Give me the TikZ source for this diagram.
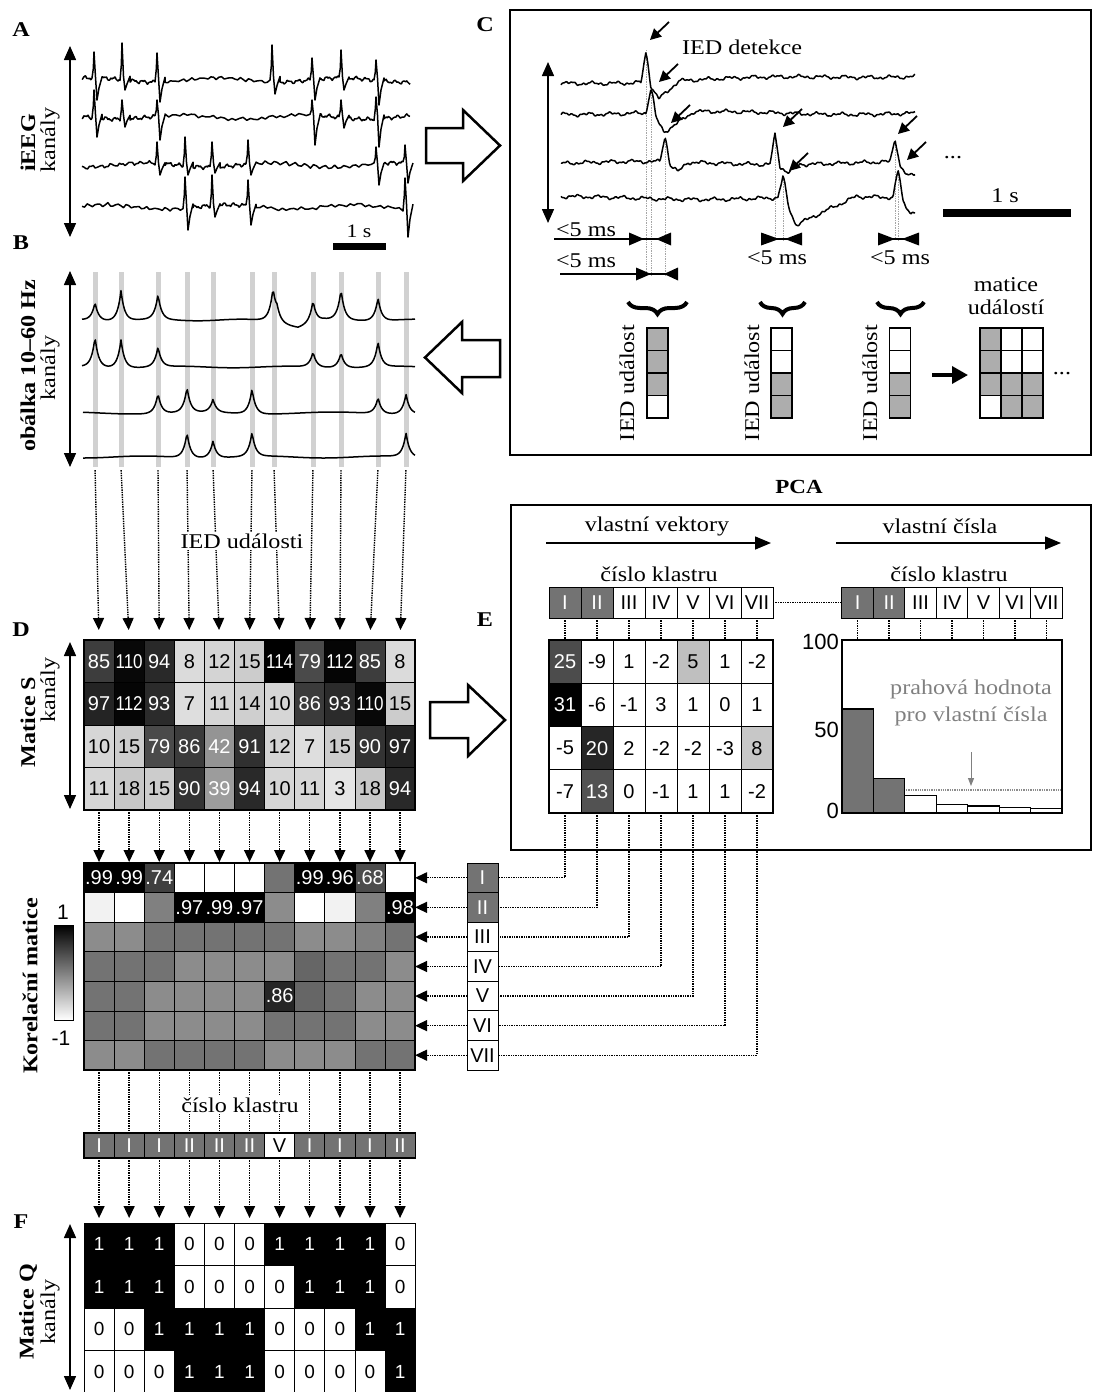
\documentclass[tikz,border=0pt]{standalone}
\usepackage{fontspec}
\usepackage{graphicx}
\setmainfont{Liberation Serif}[FakeStretch=1.15]
\newfontfamily\sfn{Liberation Sans}
\usetikzlibrary{arrows.meta,decorations.pathreplacing,calc}
\newcommand\eegA[4]{%
  \draw[trace] (82,{#1+nz(82,#2)})
   \foreach \sa/\ca/\ha/\ea in {#3} {
     -- plot[domain=\sa:\ca-2,samples=40] (\x,{#1+nz(\x,#2)})
     -- (\ca-0.7,{#1-0.4*\ha}) -- (\ca,{#1-\ha}) -- (\ca+1.5,{#1-0.1*\ha})
     -- (\ca+3,{#1+\ea}) -- (\ca+5,{#1+0.4*\ea}) -- (\ca+8,{#1-0.1*\ha})
   } #4;}
\newcommand\trimark[4]{\fill (#1,#3-#4) -- (#2,#3) -- (#1,#3+#4) -- cycle;}
\begin{document}
\begin{tikzpicture}[x=1pt,y=-1pt,
  declare function={
    nz(\xa,\ph)=1.3*sin(mod(\xa+\ph,9.7)*37.11)+0.7*sin(mod(\xa+2*\ph,4.3)*83.72)+0.35*sin(mod(\xa+3*\ph,2.1)*171.43)+2.2*sin((\xa+\ph)*2.9);
    pk(\dd,\hh)=-\hh*exp(-min(abs(\dd)/3.5,14));
    nzc(\xa,\ph)=1.2*sin(mod(\xa+\ph,23)*15.65)+0.8*sin(mod(\xa+2*\ph,9)*40)+0.5*sin(mod(\xa+3*\ph,4.3)*83.72)+1.5*sin((\xa+\ph)*1.3);
    cs(\dd,\hh,\ee,\ll)=-\hh*max(0,1-abs(\dd)/5)+\ee*max(0,min((\dd-2)/11,1-(\dd-13)/\ll));
  },
  trace/.style={draw=black,line width=1.5pt,line join=round},
  darrow/.style={line width=1.5pt,{Triangle[length=14pt,width=12pt]}-{Triangle[length=14pt,width=12pt]}},
  dotarrow/.style={densely dotted,line width=1.4pt,-{Triangle[length=12pt,width=11pt]}},
  dotline/.style={densely dotted,line width=1.4pt},
  lbl/.style={font=\fontsize{21}{26}\selectfont,inner sep=1pt},
  rlbl/.style={lbl,rotate=90},
  blbl/.style={font=\bfseries\fontsize{21}{25}\selectfont,inner sep=0pt,rotate=90},
  panel/.style={font=\bfseries\fontsize{21}{23}\selectfont,inner sep=0pt},
  num/.style={font=\sfn\fontsize{21}{23}\selectfont,inner sep=0pt},
  cell/.style={draw=black,line width=0.7pt,inner sep=0pt,outer sep=0pt,font=\sfn\fontsize{20}{22}\selectfont},
  evc/.style={draw=black,line width=1.3pt,minimum width=21pt,minimum height=22.5pt,inner sep=0pt,outer sep=0pt},
  gbar/.style={fill=black!18,draw=none,minimum width=5pt,minimum height=195pt,inner sep=0pt},
  hollow/.style={draw=black,line width=2.5pt,fill=white,line join=miter},
  smarrow/.style={line width=1.8pt,-{Triangle[length=11pt,width=11pt]}},
  gline/.style={densely dotted,black!35,line width=0.7pt},
  bigarrow/.style={line width=1.5pt,-{Triangle[length=16pt,width=13pt]}},
  brc/.style={line width=4pt,decorate,decoration={brace,amplitude=12pt,aspect=0.5}},
]
\useasboundingbox (0,0) rectangle (1094,1392);
\fill[white] (0,0) rectangle (1094,1392);

%%%%%%%%%%%%%%%% Panel A
\node[panel] (lA) at (21,30) {A};
\coordinate (aT) at (70,46); \coordinate (aB) at (70,237);
\draw[darrow] (aT) -- (aB);
\node[blbl] (tA1) at (28,143) {iEEG};
\node[rlbl] (tA2) at (50,140) {kanály};
\eegA{80}{0}{82/94/28/20, 102/122/37/10, 130/157/27/22, 165/272/35/14, 280/312/22/20, 320/341/30/10, 349/376/20/25}{-- plot[domain=384:410,samples=25] (\x,{80+nz(\x,0)})}
\eegA{117}{37}{82/94/27/20, 102/122/17/10, 130/157/17/23, 165/312/17/28, 320/341/17/11, 349/376/20/30}{-- plot[domain=384:410,samples=25] (\x,{117+nz(\x,37)})}
\eegA{165}{71}{82/157/23/10, 165/185/28/10, 193/212/23/8, 220/248/25/10, 256/376/18/20, 384/405/20/18}{}
\eegA{207}{113}{82/185/30/23, 193/212/32/10, 220/248/27/18, 256/405/29/30}{}
\fill (333,243) rectangle (386,250);
\node[lbl,font=\fontsize{19}{20}\selectfont] (sA) at (359,231) {1 s};

%%%%%%%%%%%%%%%% Panel B
\node[panel] (lB) at (21,243) {B};
\foreach \xb [count=\ii] in {95,121,158,187,213,252,274,313,341,378,406}
  \node[gbar] (gb-\ii) at (\xb,369.5) {};
\coordinate (bT) at (70,271); \coordinate (bB) at (70,467);
\draw[darrow] (bT) -- (bB);
\node[blbl] (tB1) at (28,366) {obálka 10--60 Hz};
\node[rlbl] (tB2) at (50,368) {kanály};
\draw[trace] plot[domain=82:415,samples=300] (\x,{320+0.8*sin(\x*4.1)+7*max(0,1-abs(\x-298)/26)+pk(\x-95,18)+pk(\x-121,30)+pk(\x-158,25)+pk(\x-273,30)+pk(\x-277,9)+pk(\x-313,22)+pk(\x-341,30)+pk(\x-378,23)});
\draw[trace] plot[domain=82:415,samples=300] (\x,{367+0.8*sin(\x*3.3+40)+pk(\x-95,30)+pk(\x-121,28)+pk(\x-158,20)+pk(\x-313,15)+pk(\x-341,15)+pk(\x-378,25)});
\draw[trace] plot[domain=83:415,samples=300] (\x,{413+1.0*sin(\x*2.7+90)+pk(\x-158,20)+pk(\x-187,25)+pk(\x-213,13)+pk(\x-252,25)+pk(\x-378,16)+pk(\x-406,20)});
\draw[trace] plot[domain=83:415,samples=300] (\x,{457+1.0*sin(\x*3.0+200)+pk(\x-187,25)+pk(\x-213,17)+pk(\x-252,24)+pk(\x-406,24)});

%%%%%%%%%%%%%%%% Panel D : matrix S
\node[panel] (lD) at (21,630) {D};
\foreach \row [count=\rr] in {{85,110,94,8,12,15,114,79,112,85,8},{97,112,93,7,11,14,10,86,93,110,15},{10,15,79,86,42,91,12,7,15,90,97},{11,18,15,90,39,94,10,11,3,18,94}}{
  \foreach \val [count=\cc] in \row {
    \pgfmathtruncatemacro\pp{min(100,8+0.81*\val)}
    \ifnum\val>30 \def\tc{white}\else\def\tc{black}\fi
    \ifnum\val>99 \def\vt{\scalebox{0.85}[1]{\val}}\else\def\vt{\val}\fi
    \node[cell,minimum width=30.1pt,minimum height=42.5pt,fill=black!\pp,text=\tc] (S-\rr-\cc) at ({84+30.1*(\cc-0.5)},{640+42.5*(\rr-0.5)}) {\vt};
  }
}
\draw[line width=1.4pt] (S-1-1.north west) rectangle (S-4-11.south east);
\coordinate (dT) at (70,642); \coordinate (dB) at (70,809);
\draw[darrow] (dT) -- (dB);
\node[blbl] (tD1) at (28,722) {Matice S};
\node[rlbl] (tD2) at (50,690) {kanály};

% arrows B -> S
\foreach \ii in {1,...,11}
  \draw[dotarrow,shorten <=3pt,shorten >=10pt] (gb-\ii.south) -- (S-1-\ii.north);
\node[lbl,fill=white,inner sep=2pt] (ied) at (242,541) {IED události};

%%%%%%%%%%%%%%%% Correlation matrix
\foreach \row [count=\rr] in {
 {100/.99,100/.99,75/.74,0/{},0/{},0/{},55/{},100/.99,100/.96,70/.68,0/{}},
 {5/{},0/{},50/{},100/.97,100/.99,100/.97,45/{},0/{},5/{},50/{},100/.98},
 {45/{},45/{},55/{},55/{},55/{},55/{},55/{},45/{},45/{},50/{},55/{}},
 {55/{},55/{},55/{},45/{},45/{},45/{},45/{},60/{},55/{},55/{},45/{}},
 {55/{},55/{},45/{},45/{},45/{},45/{},85/.86,60/{},55/{},45/{},45/{}},
 {55/{},55/{},45/{},45/{},45/{},45/{},55/{},55/{},55/{},45/{},45/{}},
 {45/{},45/{},55/{},55/{},55/{},55/{},45/{},45/{},45/{},55/{},55/{}}}{
  \foreach \f/\lab [count=\cc] in \row {
    \node[cell,minimum width=30.1pt,minimum height=29.57pt,fill=black!\f,text=white] (Km-\rr-\cc) at ({84+30.1*(\cc-0.5)},{863+29.57*(\rr-0.5)}) {\lab};
  }
}
\draw[line width=1.4pt] (Km-1-1.north west) rectangle (Km-7-11.south east);
\foreach \cc in {1,...,11}
  \draw[dotarrow,shorten >=1pt] (S-4-\cc.south) -- (Km-1-\cc.north);
\node[blbl] (tK) at (30,986) {Korelační matice};
\shade[top color=black,bottom color=white] (54,925) rectangle (73,1020);
\draw[line width=1pt] (54,925) rectangle (73,1020);
\node[num] (cb1) at (63,912) {1};
\node[num] (cb2) at (61,1038) {-1};

% cluster boxes I..VII
\foreach \nm [count=\kk] in {I,II,III,IV,V,VI,VII} {
  \ifnum\kk<3 \def\fc{black!55}\def\tc{white}\else\def\fc{white}\def\tc{black}\fi
  \node[cell,line width=1pt,minimum width=31pt,minimum height=29.57pt,fill=\fc,text=\tc] (cl-\kk) at (482.5,{863+29.57*(\kk-0.5)}) {\nm};
}
\foreach \kk in {1,...,7}
  \draw[dotarrow] (cl-\kk.west) -- (Km-\kk-11.east);

% bottom cluster row
\foreach \nm [count=\cc] in {I,I,I,II,II,II,V,I,I,I,II} {
  \ifnum\cc=7 \def\fc{white}\def\tc{black}\else\def\fc{black!55}\def\tc{white}\fi
  \node[cell,minimum width=30.1pt,minimum height=25pt,fill=\fc,text=\tc] (kr-\cc) at ({84+30.1*(\cc-0.5)},1145.5) {\nm};
}
\draw[line width=1.2pt] (kr-1.north west) rectangle (kr-11.south east);
\foreach \cc in {1,...,11}
  \draw[dotline] (Km-7-\cc.south) -- (kr-\cc.north);
\node[lbl,fill=white,inner sep=2pt] (klab) at (240,1105) {číslo klastru};

%%%%%%%%%%%%%%%% Panel F : matrix Q
\node[panel] (lF) at (21,1222) {F};
\foreach \row [count=\rr] in {{1,1,1,0,0,0,1,1,1,1,0},{1,1,1,0,0,0,0,1,1,1,0},{0,0,1,1,1,1,0,0,0,1,1},{0,0,0,1,1,1,0,0,0,0,1}}{
  \foreach \val [count=\cc] in \row {
    \ifnum\val=1 \def\fc{black}\def\tc{white}\else\def\fc{white}\def\tc{black}\fi
    \node[cell,font=\sfn\fontsize{19}{21}\selectfont,minimum width=30.1pt,minimum height=42.5pt,fill=\fc,text=\tc] (Q-\rr-\cc) at ({84+30.1*(\cc-0.5)},{1223+42.5*(\rr-0.5)}) {\val};
  }
}
\foreach \cc in {1,...,11}
  \draw[dotarrow,shorten >=5pt] (kr-\cc.south) -- (Q-1-\cc.north);
\coordinate (fT) at (70,1224); \coordinate (fB) at (70,1390);
\draw[darrow] (fT) -- (fB);
\node[blbl] (tF1) at (28,1312) {Matice Q};
\node[rlbl] (tF2) at (50,1312) {kanály};

%%%%%%%%%%%%%%%% Hollow arrows
\draw[hollow] (426,128) -- (463,128) -- (463,110) -- (500,145.5) -- (463,181) -- (463,163) -- (426,163) -- cycle;
\draw[hollow] (500,340) -- (462,340) -- (462,322) -- (425,357.5) -- (462,393) -- (462,377) -- (500,377) -- cycle;
\draw[hollow] (430,702) -- (468,702) -- (468,685) -- (505,720) -- (468,756) -- (468,738) -- (430,738) -- cycle;

%%%%%%%%%%%%%%%% Panel C
\draw[line width=2.5pt] (510,10) rectangle (1091,455);
\node[panel] (lC) at (485,25) {C};
\foreach \gx/\gy/\gz in {646/50/276, 651/88/276, 665/137/276, 775/133/240, 783/177/240, 895/140/240, 898/170/240}
  \draw[gline] (\gx,\gy) -- (\gx,\gz);
\coordinate (cT) at (548,62); \coordinate (cB) at (548,223);
\draw[darrow] (cT) -- (cB);
\draw[trace] plot[domain=561:915,samples=360] (\x,{83-0.022*(\x-561)+nzc(\x,0)+cs(\x-646,31,17,20)});
\draw[trace] plot[domain=561:915,samples=360] (\x,{113+nzc(\x,50)+cs(\x-651,25,20,30)});
\draw[trace] plot[domain=561:915,samples=360] (\x,{163+nzc(\x,120)+cs(\x-665,26,10,10)+cs(\x-775,30,8,12)+cs(\x-895,23,15,40)});
\draw[trace] plot[domain=561:915,samples=360] (\x,{198+nzc(\x,200)+cs(\x-783,21,28,60)+cs(\x-898,28,15,40)});
\foreach \tx/\ty [count=\ii] in {650/40, 659/82, 671/123, 783/127, 789/171, 898/134, 907/160} {
  \coordinate (pt-\ii) at (\tx,\ty);
  \draw[smarrow] ($(pt-\ii)+(19,-18)$) -- (pt-\ii);
}
\node[lbl] (det) at (742,47) {IED detekce};
\node[lbl] (dots1) at (953,158) {...};
\fill (943,209) rectangle (1071,217);
\node[lbl] (sC) at (1005,196) {1 s};
% timing markers
\draw[line width=1.3pt] (554,239) -- (671,239); \trimark{629}{644}{239}{6.5} \trimark{671}{656}{239}{6.5}
\draw[line width=1.3pt] (560,274) -- (678,274); \trimark{636}{651}{274}{6.5} \trimark{678}{664}{274}{6.5}
\draw[line width=1.3pt] (761,239) -- (802,239); \trimark{761}{779}{239}{6.5} \trimark{802}{785}{239}{6.5}
\draw[line width=1.3pt] (878,239) -- (919,239); \trimark{878}{895}{239}{6.5} \trimark{919}{902}{239}{6.5}
\node[lbl] (ms1) at (586,230) {<5 ms};
\node[lbl] (ms2) at (586,261) {<5 ms};
\node[lbl] (ms3) at (777,258) {<5 ms};
\node[lbl] (ms4) at (900,258) {<5 ms};
% braces
\draw[brc] (687,302) -- (628,302);
\draw[brc] (805,302) -- (760,302);
\draw[brc] (924,302) -- (877,302);
% event columns
\foreach \colx/\fills [count=\ii] in {657.5/{1,1,1,0}, 781.5/{0,0,1,1}, 900/{0,0,1,1}} {
  \foreach \g [count=\rr] in \fills {
    \ifnum\g=1 \def\fc{black!32}\else\def\fc{white}\fi
    \node[evc,fill=\fc] (ev-\ii-\rr) at (\colx,{328+22.5*(\rr-0.5)}) {};
  }
}
\node[rlbl] (iu1) at (627,383) {IED událost};
\node[rlbl] (iu2) at (752,383) {IED událost};
\node[rlbl] (iu3) at (870,383) {IED událost};
\foreach \colx/\fills [count=\ii] in {990.5/{1,1,1,0}, 1011.5/{0,0,1,1}, 1032.5/{0,0,1,1}} {
  \foreach \g [count=\rr] in \fills {
    \ifnum\g=1 \def\fc{black!32}\else\def\fc{white}\fi
    \node[evc,fill=\fc] (em-\ii-\rr) at (\colx,{328+22.5*(\rr-0.5)}) {};
  }
}
\coordinate (eaA) at (932,375); \coordinate (eaB) at (968,375);
\draw[line width=3.5pt,-{Triangle[length=16pt,width=17pt]}] (eaA) -- (eaB);
\node[lbl] (dots2) at (1062,374) {...};
\node[lbl,align=center,font=\fontsize{21}{23}\selectfont] (mu) at (1006,296) {matice\\událostí};

%%%%%%%%%%%%%%%% Panel E
\node[font=\bfseries\fontsize{20}{22}\selectfont] (pca) at (799,487) {PCA};
\draw[line width=2.5pt] (511,505) rectangle (1091,850);
\node[panel] (lE) at (485,620) {E};
\node[lbl] (vv) at (657,526) {vlastní vektory};
\coordinate (vvA) at (546,543); \coordinate (vvB) at (771,543);
\draw[bigarrow] (vvA) -- (vvB);
\node[lbl] (vc) at (940,526) {vlastní čísla};
\coordinate (vcA) at (836,543); \coordinate (vcB) at (1061,543);
\draw[bigarrow] (vcA) -- (vcB);
\node[lbl] (ck1) at (659,574) {číslo klastru};
\node[lbl] (ck2) at (949,574) {číslo klastru};
\foreach \nm [count=\jj] in {I,II,III,IV,V,VI,VII} {
  \ifnum\jj<3 \def\fc{black!55}\def\tc{white}\else\def\fc{white}\def\tc{black}\fi
  \node[cell,line width=1pt,minimum width=32pt,minimum height=31pt,fill=\fc,text=\tc] (Et-\jj) at ({565+32*(\jj-1)},602.5) {\nm};
  \node[cell,line width=1pt,minimum width=31.43pt,minimum height=31pt,fill=\fc,text=\tc] (Ec-\jj) at ({857.7+31.43*(\jj-1)},602.5) {\nm};
}
\draw[dotline] (Et-7.east) -- (Ec-1.west);
\foreach \row [count=\rr] in {{25/70,-9/0,1/0,-2/0,5/25,1/0,-2/0},{31/100,-6/0,-1/0,3/0,1/0,0/0,1/0},{-5/0,20/85,2/0,-2/0,-2/0,-3/0,8/22},{-7/0,13/68,0/0,-1/0,1/0,1/0,-2/0}}{
  \foreach \val/\f [count=\cc] in \row {
    \ifnum\f>50 \def\tc{white}\else\def\tc{black}\fi
    \node[cell,line width=1pt,minimum width=32pt,minimum height=43.25pt,fill=black!\f,text=\tc] (E-\rr-\cc) at ({565+32*(\cc-1)},{640+43.25*(\rr-0.5)}) {\val};
  }
}
\draw[line width=1.3pt] (E-1-1.north west) rectangle (E-4-7.south east);
\foreach \jj in {1,...,7} {
  \draw[dotline] (Et-\jj.south) -- (E-1-\jj.north);
  \coordinate (ch-\jj) at ({857.7+31.43*(\jj-1)},640);
  \draw[dotline] (Ec-\jj.south) -- (ch-\jj);
}
% bar chart
\foreach \hv [count=\jj] in {709,778.4,795.7,804.4,806,807.8,808.7} {
  \ifnum\jj<3 \def\fc{black!55}\else\def\fc{white}\fi
  \filldraw[fill=\fc,draw=black,line width=1.2pt] ({842+31.43*(\jj-1)},\hv) rectangle ({842+31.43*\jj},813);
}
\draw[line width=1.3pt] (842,640) rectangle (1062,813);
\node[num,font=\sfn\fontsize{22}{24}\selectfont,anchor=east] (ax100) at (839,642) {100};
\node[num,font=\sfn\fontsize{22}{24}\selectfont,anchor=east] (ax50) at (839,730) {50};
\node[num,font=\sfn\fontsize{22}{24}\selectfont,anchor=east] (ax0) at (839,811) {0};
\draw[densely dotted,black!45,line width=1.3pt] (906,790) -- (1062,790);
\node[lbl,text=black!50,align=center,font=\fontsize{21}{27}\selectfont] (thr) at (971,703) {prahová hodnota\\pro vlastní čísla};
\coordinate (thrA) at (971,752); \coordinate (thrB) at (971,786);
\draw[black!50,line width=1pt,-{Triangle[length=8pt,width=6pt]}] (thrA) -- (thrB);

% E -> cluster boxes
\foreach \kk in {1,...,7}
  \draw[dotline] (E-4-\kk.south) |- (cl-\kk.east);

\end{tikzpicture}
\end{document}
